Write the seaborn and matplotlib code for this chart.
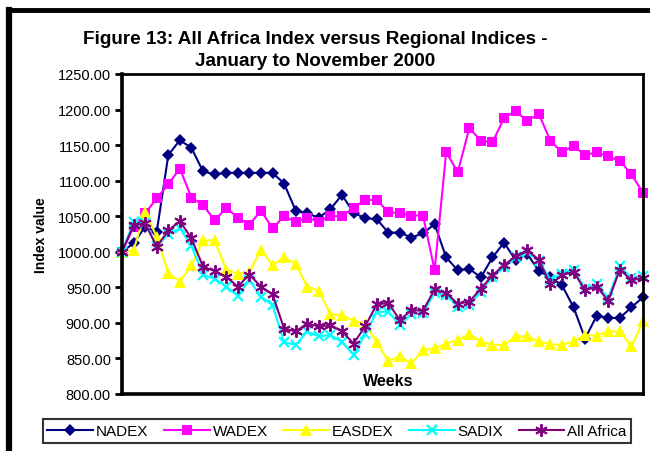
import numpy as np
import pandas as pd
import seaborn as sns
import matplotlib
matplotlib.use("Agg")
import matplotlib.pyplot as plt
import matplotlib.ticker as mtick
from matplotlib.lines import Line2D

plt.rcParams['font.family'] = ['Liberation Sans', 'DejaVu Sans']

# weekly index values, Jan - Nov 2000 (base = 1000)
nadex = [1000, 1012, 1035, 1028, 1136, 1157, 1146, 1113, 1109, 1111,
         1111, 1111, 1111, 1111, 1096, 1058, 1054, 1048, 1060, 1080,
         1055, 1047, 1046, 1027, 1027, 1020, 1026, 1039, 992, 974,
         976, 964, 992, 1013, 988, 997, 973, 964, 953, 922,
         878, 910, 907, 907, 922, 936]
wadex = [1000, 1035, 1054, 1075, 1095, 1117, 1076, 1066, 1044, 1062,
         1048, 1038, 1058, 1033, 1050, 1042, 1048, 1042, 1050, 1050,
         1062, 1073, 1073, 1056, 1054, 1051, 1051, 974, 1140, 1112,
         1174, 1156, 1154, 1188, 1198, 1184, 1194, 1156, 1140, 1149,
         1136, 1140, 1134, 1128, 1109, 1083]
easdex = [1000, 1002, 1056, 1021, 970, 958, 981, 1016, 1016, 975,
          969, 971, 1003, 981, 992, 983, 951, 945, 912, 911,
          903, 899, 873, 846, 853, 843, 862, 864, 871, 876,
          884, 874, 869, 869, 881, 881, 874, 870, 869, 874,
          883, 882, 888, 888, 867, 902]
sadix = [1000, 1042, 1041, 1008, 1025, 1033, 1008, 968, 962, 951,
         938, 960, 937, 925, 873, 869, 888, 881, 883, 873,
         855, 884, 915, 916, 897, 912, 914, 942, 939, 923,
         925, 944, 965, 978, 992, 1000, 987, 961, 969, 975,
         948, 954, 935, 980, 963, 966]
all_africa = [1000, 1037, 1040, 1007, 1030, 1043, 1019, 979, 973, 965,
              951, 968, 951, 940, 892, 888, 899, 895, 897, 888,
              871, 895, 926, 928, 904, 918, 917, 947, 942, 927,
              930, 948, 967, 981, 994, 1002, 989, 954, 967, 972,
              946, 951, 931, 975, 960, 963]

names = ["NADEX", "WADEX", "EASDEX", "SADIX", "All Africa"]
weeks = np.arange(len(nadex))

df = pd.DataFrame({"week": weeks, "NADEX": nadex, "WADEX": wadex,
                   "EASDEX": easdex, "SADIX": sadix,
                   "All Africa": all_africa})
long = df.melt(id_vars="week", var_name="index", value_name="value")

styles = {
    "NADEX": dict(color="#000080", marker="D", ms=6.5, mew=0),
    "WADEX": dict(color="#FF00FF", marker="s", ms=7, mew=0),
    "EASDEX": dict(color="#FFFF00", marker="^", ms=8, mew=0),
    "SADIX": dict(color="#00FFFF", marker="x", ms=7, mew=1.6),
    "All Africa": dict(color="#800080", marker=(6, 2, 0), ms=9, mew=1.4),
}

fig = plt.figure(figsize=(6.5, 4.52), dpi=100)
ax = fig.add_axes([122/650, 1-395/452, (643-122)/650, (395-75)/452])

for n in names:
    st = styles[n]
    sns.lineplot(data=long[long["index"] == n], x="week", y="value",
                 ax=ax, color=st["color"], marker=st["marker"],
                 markersize=st["ms"], markeredgewidth=st["mew"],
                 markeredgecolor=st["color"], linewidth=1.5, label=n,
                 legend=False, clip_on=False)

ax.set_xlim(0, len(nadex)-1)
ax.set_ylim(800, 1250)
ax.set_yticks(np.arange(800, 1251, 50))
ax.yaxis.set_major_formatter(mtick.FormatStrFormatter("%.2f"))
ax.set_xticks([])
ax.set_xlabel("")
ax.set_ylabel("")
ax.tick_params(axis="y", direction="out", length=5, width=2, pad=3,
               labelsize=10.5)
for s in ["left", "bottom"]:
    ax.spines[s].set_linewidth(2.6)
for s in ["top", "right"]:
    ax.spines[s].set_linewidth(2.0)

fig.text(315/650, 1-39/452, "Figure 13: All Africa Index versus Regional Indices -",
         ha="center", va="center", fontsize=13.6, fontweight="bold")
fig.text(315/650, 1-61/452, "January to November 2000",
         ha="center", va="center", fontsize=13.6, fontweight="bold")
fig.text(388/650, 1-382/452, "Weeks", ha="center", va="center",
         fontsize=11.5, fontweight="bold")
fig.text(41/650, 1-235/452, "Index value", ha="center", va="center",
         rotation=90, fontsize=10, fontweight="bold")

# outer chart border (top and left edges are inside the picture)
fig.add_artist(Line2D([9/650, 9/650], [0, 1-11/452], color="black",
                      lw=4.5, transform=fig.transFigure, solid_capstyle="projecting"))
fig.add_artist(Line2D([9/650, 1], [1-11/452, 1-11/452], color="black",
                      lw=3.5, transform=fig.transFigure, solid_capstyle="projecting"))

handles = []
for n in names:
    st = styles[n]
    handles.append(Line2D([], [], color=st["color"], marker=st["marker"],
                          markersize=st["ms"], markeredgewidth=st["mew"],
                          markeredgecolor=st["color"], linewidth=1.5))
leg = fig.legend(handles, names, loc="center", ncol=5,
                 bbox_to_anchor=(337/650, 1-432/452), fontsize=11,
                 frameon=True, fancybox=False, edgecolor="black",
                 handlelength=3.0, handletextpad=0.2, columnspacing=1.0,
                 borderpad=0.3, borderaxespad=0)
leg.get_frame().set_linewidth(1.5)

fig.savefig("out.png", dpi=100)
